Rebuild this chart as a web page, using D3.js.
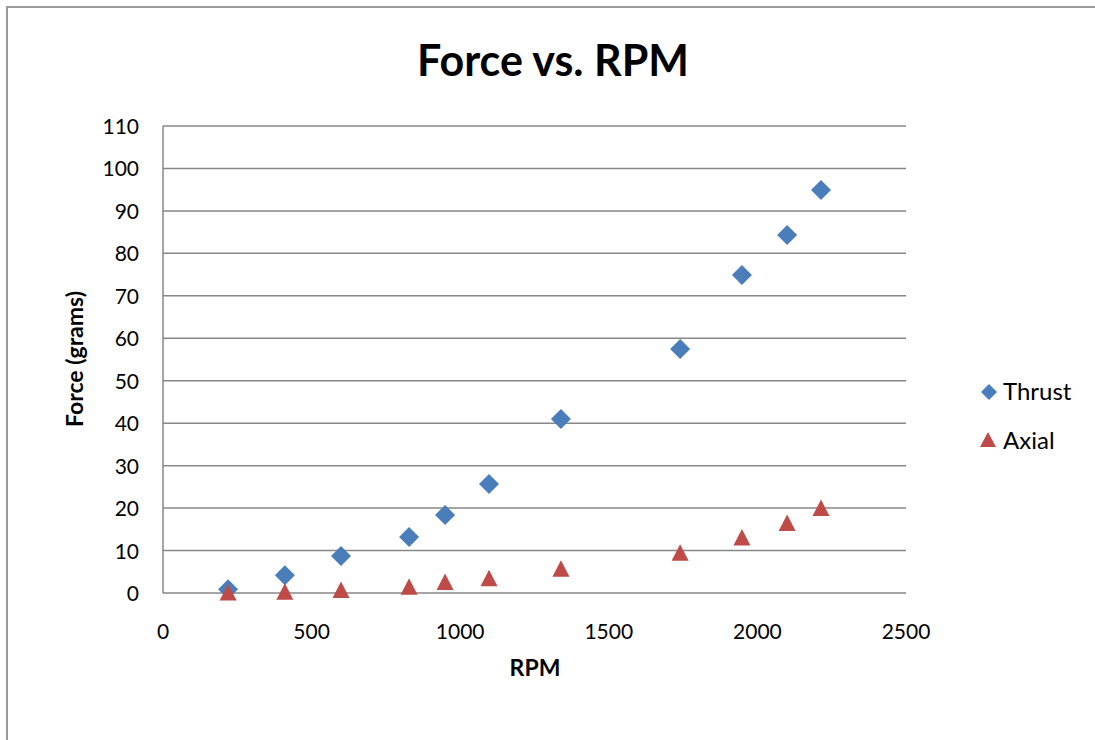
<!DOCTYPE html>
<html>
<head>
<meta charset="utf-8">
<script src="https://cdn.jsdelivr.net/npm/d3@7"></script>
<style>
  body { margin: 0; background: #fff; }
  text { font-family: Lato, "Open Sans", sans-serif; fill: #000; }
</style>
</head>
<body>
<svg id="chart" width="1095" height="740"></svg>
<script>
// dados
const rpm = [219, 410, 599, 828, 949, 1097, 1339, 1740, 1948, 2100, 2214];
const thrust = [0.9, 4.2, 8.7, 13.2, 18.4, 25.7, 41.0, 57.5, 74.9, 84.3, 94.9];
const axial = [0.1, 0.3, 0.7, 1.5, 2.6, 3.5, 5.7, 9.5, 13.1, 16.5, 20.0];
const xTicks = [0, 500, 1000, 1500, 2000, 2500];
const yTicks = [0, 10, 20, 30, 40, 50, 60, 70, 80, 90, 100, 110];

const svg = d3.select("#chart");

// moldura do gráfico (só topo e esquerda aparecem)
svg.append("path")
    .attr("d", "M7,740 L7,7 L1095,7")
    .attr("fill", "none")
    .attr("stroke", "#9a9a9a")
    .attr("stroke-width", 2);

const x = d3.scaleLinear().domain([0, 2500]).range([163, 906]);
const y = d3.scaleLinear().domain([0, 110]).range([593, 126]);

// linhas de grade
svg.selectAll(".grade")
    .data(yTicks)
    .enter()
    .append("line")
    .attr("class", "grade")
    .attr("x1", x(0))
    .attr("x2", x(2500))
    .attr("y1", d => y(d))
    .attr("y2", d => y(d))
    .attr("stroke", "#878787")
    .attr("stroke-width", 1.5);

// eixo vertical
svg.append("line")
    .attr("x1", x(0)).attr("x2", x(0))
    .attr("y1", y(0)).attr("y2", y(110))
    .attr("stroke", "#878787")
    .attr("stroke-width", 1.5);

// rótulos dos eixos
svg.selectAll(".ytick")
    .data(yTicks)
    .enter()
    .append("text")
    .attr("class", "ytick")
    .attr("x", 139)
    .attr("y", d => y(d) + 8)
    .attr("text-anchor", "end")
    .attr("font-size", 21)
    .text(d => d);

svg.selectAll(".xtick")
    .data(xTicks)
    .enter()
    .append("text")
    .attr("class", "xtick")
    .attr("x", d => x(d))
    .attr("y", 639)
    .attr("text-anchor", "middle")
    .attr("font-size", 21)
    .text(d => d);

svg.append("text")
    .attr("x", 553)
    .attr("y", 76)
    .attr("text-anchor", "middle")
    .attr("font-size", 43)
    .attr("font-weight", "bold")
    .text("Force vs. RPM");

svg.append("text")
    .attr("x", 535)
    .attr("y", 676)
    .attr("text-anchor", "middle")
    .attr("font-size", 23)
    .attr("font-weight", "bold")
    .text("RPM");

svg.append("text")
    .attr("transform", "translate(83,359) rotate(-90)")
    .attr("text-anchor", "middle")
    .attr("font-size", 23)
    .attr("font-weight", "bold")
    .text("Force (grams)");

// marcadores
const losango = "M0,-10 L10,0 L0,10 L-10,0 Z";
const triangulo = "M0,-8.5 L8.5,8 L-8.5,8 Z";

const pontos = rpm.map((r, i) => ({ r, t: thrust[i], a: axial[i] }));

svg.selectAll(".thrust")
    .data(pontos)
    .enter()
    .append("path")
    .attr("class", "thrust")
    .attr("d", losango)
    .attr("fill", "#4a7ebb")
    .attr("transform", d => `translate(${x(d.r)},${y(d.t)})`);

svg.selectAll(".axial")
    .data(pontos)
    .enter()
    .append("path")
    .attr("class", "axial")
    .attr("d", triangulo)
    .attr("fill", "#be4b48")
    .attr("transform", d => `translate(${x(d.r)},${y(d.a)})`);

// legenda
svg.append("path")
    .attr("d", "M0,-8 L8,0 L0,8 L-8,0 Z")
    .attr("fill", "#4a7ebb")
    .attr("transform", "translate(989,392)");
svg.append("text")
    .attr("x", 1003).attr("y", 400)
    .attr("font-size", 24)
    .text("Thrust");

svg.append("path")
    .attr("d", "M0,-8 L8,7 L-8,7 Z")
    .attr("fill", "#be4b48")
    .attr("transform", "translate(988,440)");
svg.append("text")
    .attr("x", 1003).attr("y", 449)
    .attr("font-size", 24)
    .text("Axial");
</script>
</body>
</html>
